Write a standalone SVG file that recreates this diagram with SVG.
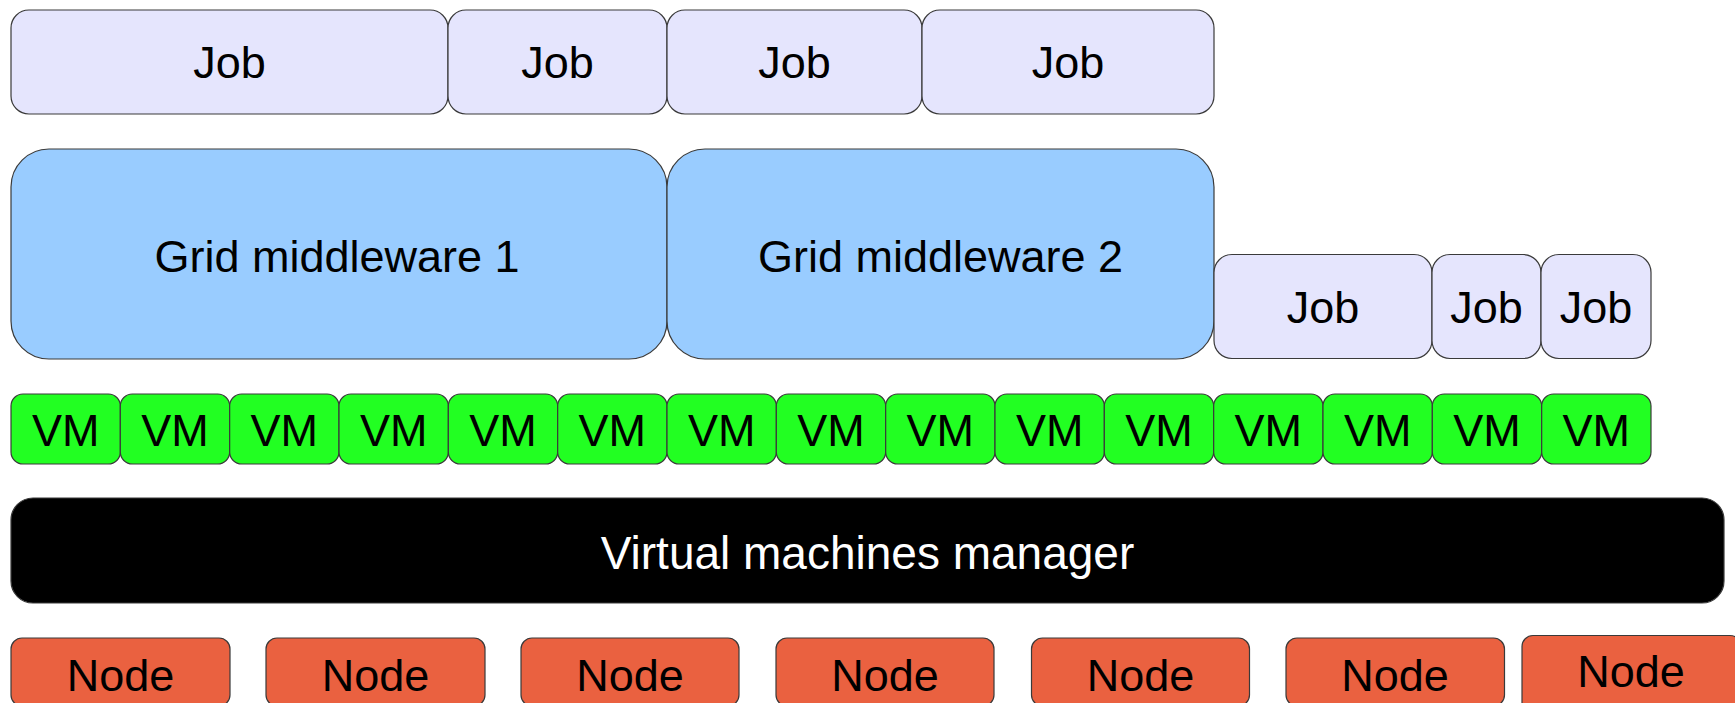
<svg xmlns="http://www.w3.org/2000/svg" width="1735" height="703" viewBox="0 0 1735 703">
<style>
rect{stroke:#3a3a3a;stroke-width:1.2}
.job{fill:#e5e5fd}
.gm{fill:#99ccff}
.vm{fill:#22ff22}
.vmm{fill:#000000}
.node{fill:#ea6140}
text{font-family:"Liberation Sans",Arial,sans-serif;font-size:45px;text-anchor:middle;fill:#000}
.w{fill:#ffffff;font-size:46px}
</style>
<rect width="1735" height="703" fill="#ffffff" style="stroke:none"/>
<g id="jobs-top">
<g id="job1"><rect class="job" x="11" y="10" width="437" height="104" rx="18"/><text x="229.5" y="78">Job</text></g>
<g id="job2"><rect class="job" x="448" y="10" width="219" height="104" rx="18"/><text x="557.5" y="78">Job</text></g>
<g id="job3"><rect class="job" x="667" y="10" width="255" height="104" rx="18"/><text x="794.5" y="78">Job</text></g>
<g id="job4"><rect class="job" x="922" y="10" width="292" height="104" rx="18"/><text x="1068" y="78">Job</text></g>
</g>
<g id="middleware">
<g id="gm1"><rect class="gm" x="11" y="149" width="656" height="210" rx="38"/><text x="337" y="272">Grid middleware 1</text></g>
<g id="gm2"><rect class="gm" x="667" y="149" width="547" height="210" rx="38"/><text x="940.5" y="272">Grid middleware 2</text></g>
</g>
<g id="jobs-right">
<g id="job5"><rect class="job" x="1214" y="254.5" width="218" height="104" rx="18"/><text x="1323" y="323">Job</text></g>
<g id="job6"><rect class="job" x="1432" y="254.5" width="109" height="104" rx="18"/><text x="1486.5" y="323">Job</text></g>
<g id="job7"><rect class="job" x="1541" y="254.5" width="110" height="104" rx="18"/><text x="1596" y="323">Job</text></g>
</g>
<g id="vms">
<g id="vm1"><rect class="vm" x="11" y="394" width="109.33" height="70" rx="12"/><text x="65.7" y="446">VM</text></g>
<g id="vm2"><rect class="vm" x="120.33" y="394" width="109.33" height="70" rx="12"/><text x="175" y="446">VM</text></g>
<g id="vm3"><rect class="vm" x="229.67" y="394" width="109.33" height="70" rx="12"/><text x="284.3" y="446">VM</text></g>
<g id="vm4"><rect class="vm" x="339" y="394" width="109.33" height="70" rx="12"/><text x="393.7" y="446">VM</text></g>
<g id="vm5"><rect class="vm" x="448.33" y="394" width="109.33" height="70" rx="12"/><text x="503" y="446">VM</text></g>
<g id="vm6"><rect class="vm" x="557.67" y="394" width="109.33" height="70" rx="12"/><text x="612.3" y="446">VM</text></g>
<g id="vm7"><rect class="vm" x="667" y="394" width="109.33" height="70" rx="12"/><text x="721.7" y="446">VM</text></g>
<g id="vm8"><rect class="vm" x="776.33" y="394" width="109.33" height="70" rx="12"/><text x="831" y="446">VM</text></g>
<g id="vm9"><rect class="vm" x="885.67" y="394" width="109.33" height="70" rx="12"/><text x="940.3" y="446">VM</text></g>
<g id="vm10"><rect class="vm" x="995" y="394" width="109.33" height="70" rx="12"/><text x="1049.7" y="446">VM</text></g>
<g id="vm11"><rect class="vm" x="1104.33" y="394" width="109.33" height="70" rx="12"/><text x="1159" y="446">VM</text></g>
<g id="vm12"><rect class="vm" x="1213.67" y="394" width="109.33" height="70" rx="12"/><text x="1268.3" y="446">VM</text></g>
<g id="vm13"><rect class="vm" x="1323" y="394" width="109.33" height="70" rx="12"/><text x="1377.7" y="446">VM</text></g>
<g id="vm14"><rect class="vm" x="1432.33" y="394" width="109.33" height="70" rx="12"/><text x="1487" y="446">VM</text></g>
<g id="vm15"><rect class="vm" x="1541.67" y="394" width="109.33" height="70" rx="12"/><text x="1596.3" y="446">VM</text></g>
</g>
<g id="vmm"><rect class="vmm" x="11" y="498" width="1713" height="105" rx="22"/><text class="w" x="867.5" y="569">Virtual machines manager</text></g>
<g id="nodes">
<g id="node1"><rect class="node" x="11" y="638" width="219" height="68" rx="11"/><text x="120.5" y="691">Node</text></g>
<g id="node2"><rect class="node" x="266" y="638" width="219" height="68" rx="11"/><text x="375.5" y="691">Node</text></g>
<g id="node3"><rect class="node" x="521" y="638" width="218" height="68" rx="11"/><text x="630" y="691">Node</text></g>
<g id="node4"><rect class="node" x="776" y="638" width="218" height="68" rx="11"/><text x="885" y="691">Node</text></g>
<g id="node5"><rect class="node" x="1031.5" y="638" width="218" height="68" rx="11"/><text x="1140.5" y="691">Node</text></g>
<g id="node6"><rect class="node" x="1286" y="638" width="218.5" height="68" rx="11"/><text x="1395" y="691">Node</text></g>
<g id="node7"><rect class="node" x="1522" y="635.5" width="219" height="80" rx="11"/><text x="1631" y="687">Node</text></g>
</g>
<g id="connectors"></g>
</svg>
